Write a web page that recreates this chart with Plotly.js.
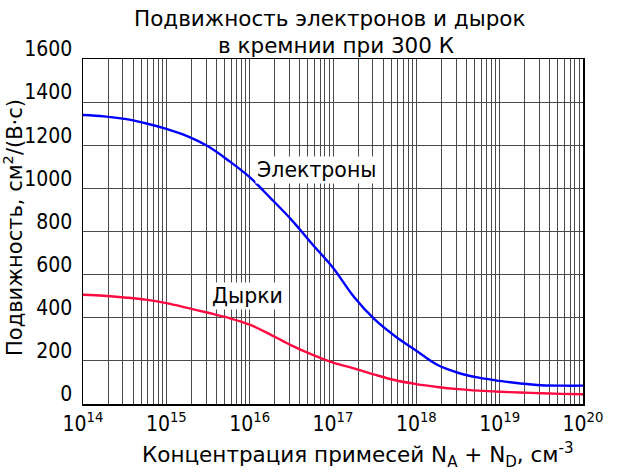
<!DOCTYPE html>
<html>
<head>
<meta charset="utf-8">
<script src="https://cdn.plot.ly/plotly-3.0.1.min.js"></script>
<style>html,body{margin:0;padding:0;background:#fff;}#chart{width:619px;height:474px;}</style>
</head>
<body>
<div id="chart"></div>
<script>
// Concentration N_A + N_D, cm^-3 (quarter-decade readings)
const electronConc = [1e14, 1.78e14, 3.16e14, 5.62e14, 1e15, 1.78e15, 3.16e15, 5.62e15, 1e16, 1.78e16, 3.16e16, 5.62e16, 1e17, 1.78e17, 3.16e17, 5.62e17, 1e18, 1.78e18, 3.16e18, 5.62e18, 1e19, 1.78e19, 3.16e19, 5.62e19, 1e20];
const electronMobility = [1340, 1334, 1322, 1302, 1276, 1242, 1195, 1128, 1052, 955, 855, 742, 632, 497, 392, 313, 247, 182, 145, 122, 107, 95, 87, 85, 85];
const holeConc = [1e14, 1.78e14, 3.16e14, 5.62e14, 1e15, 1.78e15, 3.16e15, 5.62e15, 1e16, 1.78e16, 3.16e16, 5.62e16, 1e17, 1.78e17, 3.16e17, 5.62e17, 1e18, 1.78e18, 3.16e18, 5.62e18, 1e19, 1.78e19, 3.16e19, 5.62e19, 1e20];
const holeMobility = [507, 502, 494, 484, 468, 446, 423, 399, 368, 322, 272, 229, 192, 165, 136, 110, 92, 79, 69, 62, 57, 53, 50, 47, 45];
const decades = [14, 15, 16, 17, 18, 19, 20];
const yTicks = [0, 200, 400, 600, 800, 1000, 1200, 1400, 1600];

const xTickVals = [], xTickText = [];
decades.forEach(d => {
  const mults = d === 20 ? [1] : [1,2,3,4,5,6,7,8,9];
  mults.forEach(m => {
    xTickVals.push(m * Math.pow(10, d));
    xTickText.push(m === 1 ? '10<sup>' + d + '</sup>' : '');
  });
});

const textFont = 'DejaVu Sans, Verdana, sans-serif';
const tickFont = 'Liberation Sans Narrow, Arial Narrow, DejaVu Sans Condensed, sans-serif';

const data = [
  {x: electronConc, y: electronMobility, type: 'scatter', mode: 'lines',
   line: {color: '#0000ff', width: 2.4, shape: 'spline', smoothing: 1}, name: 'Электроны'},
  {x: holeConc, y: holeMobility, type: 'scatter', mode: 'lines',
   line: {color: '#ff0a40', width: 2.4, shape: 'spline', smoothing: 1}, name: 'Дырки'}
];

const L = 83, R = 36, T = 59, B = 70;
const plotW = 619 - L - R, plotH = 474 - T - B;
const px = v => (v - L) / plotW;          // pixel x -> paper x
const py = v => (474 - B - v) / plotH;    // pixel y -> paper y

const layout = {
  width: 619, height: 474,
  margin: {l: L, r: R, t: T, b: B},
  paper_bgcolor: '#fff', plot_bgcolor: '#fff',
  showlegend: false,
  xaxis: {type: 'log', range: [14, 20], tickmode: 'array', tickvals: xTickVals, ticktext: xTickText,
          showgrid: true, gridcolor: '#4a4a4a', gridwidth: 1, ticks: '',
          showline: true, linecolor: '#000', linewidth: 1.5, mirror: true, zeroline: false,
          tickfont: {family: tickFont, size: 21, color: '#000'}},
  yaxis: {range: [0, 1600], tickmode: 'array', tickvals: yTicks,
          showgrid: true, gridcolor: '#4a4a4a', gridwidth: 1, ticks: '',
          showline: true, linecolor: '#000', linewidth: 1.5, mirror: true, zeroline: false,
          ticklabelshift: -10, ticklabelstandoff: 5,
          tickfont: {family: tickFont, size: 21, color: '#000'}},
  annotations: [
    {text: 'Подвижность электронов и дырок', x: px(330), y: py(19), xref: 'paper', yref: 'paper',
     xanchor: 'center', yanchor: 'middle', showarrow: false,
     font: {family: textFont, size: 21.5, color: '#000'}},
    {text: 'в кремнии при 300 К', x: px(336), y: py(46), xref: 'paper', yref: 'paper',
     xanchor: 'center', yanchor: 'middle', showarrow: false,
     font: {family: textFont, size: 21.5, color: '#000'}},
    {text: 'Электроны', x: 16.81, y: 1085, xref: 'x', yref: 'y', showarrow: false,
     xanchor: 'center', yanchor: 'middle',
     font: {family: textFont, size: 20.5, color: '#000'}, bgcolor: '#fff'},
    {text: 'Дырки', x: 15.97, y: 500, xref: 'x', yref: 'y', showarrow: false,
     xanchor: 'center', yanchor: 'middle',
     font: {family: textFont, size: 20.5, color: '#000'}, bgcolor: '#fff'},
    {text: 'Концентрация примесей N<sub>A</sub> + N<sub>D</sub>, см<sup>-3</sup>',
     x: px(358), y: py(455), xref: 'paper', yref: 'paper', showarrow: false,
     xanchor: 'center', yanchor: 'middle',
     font: {family: textFont, size: 21.5, color: '#000'}},
    {text: 'Подвижность, см<sup>2</sup>/(В·с)', textangle: -90,
     x: px(13), y: py(228), xref: 'paper', yref: 'paper', showarrow: false,
     xanchor: 'center', yanchor: 'middle',
     font: {family: textFont, size: 21, color: '#000'}}
  ]
};

Plotly.newPlot('chart', data, layout, {displayModeBar: false, staticPlot: true});
</script>
</body>
</html>
